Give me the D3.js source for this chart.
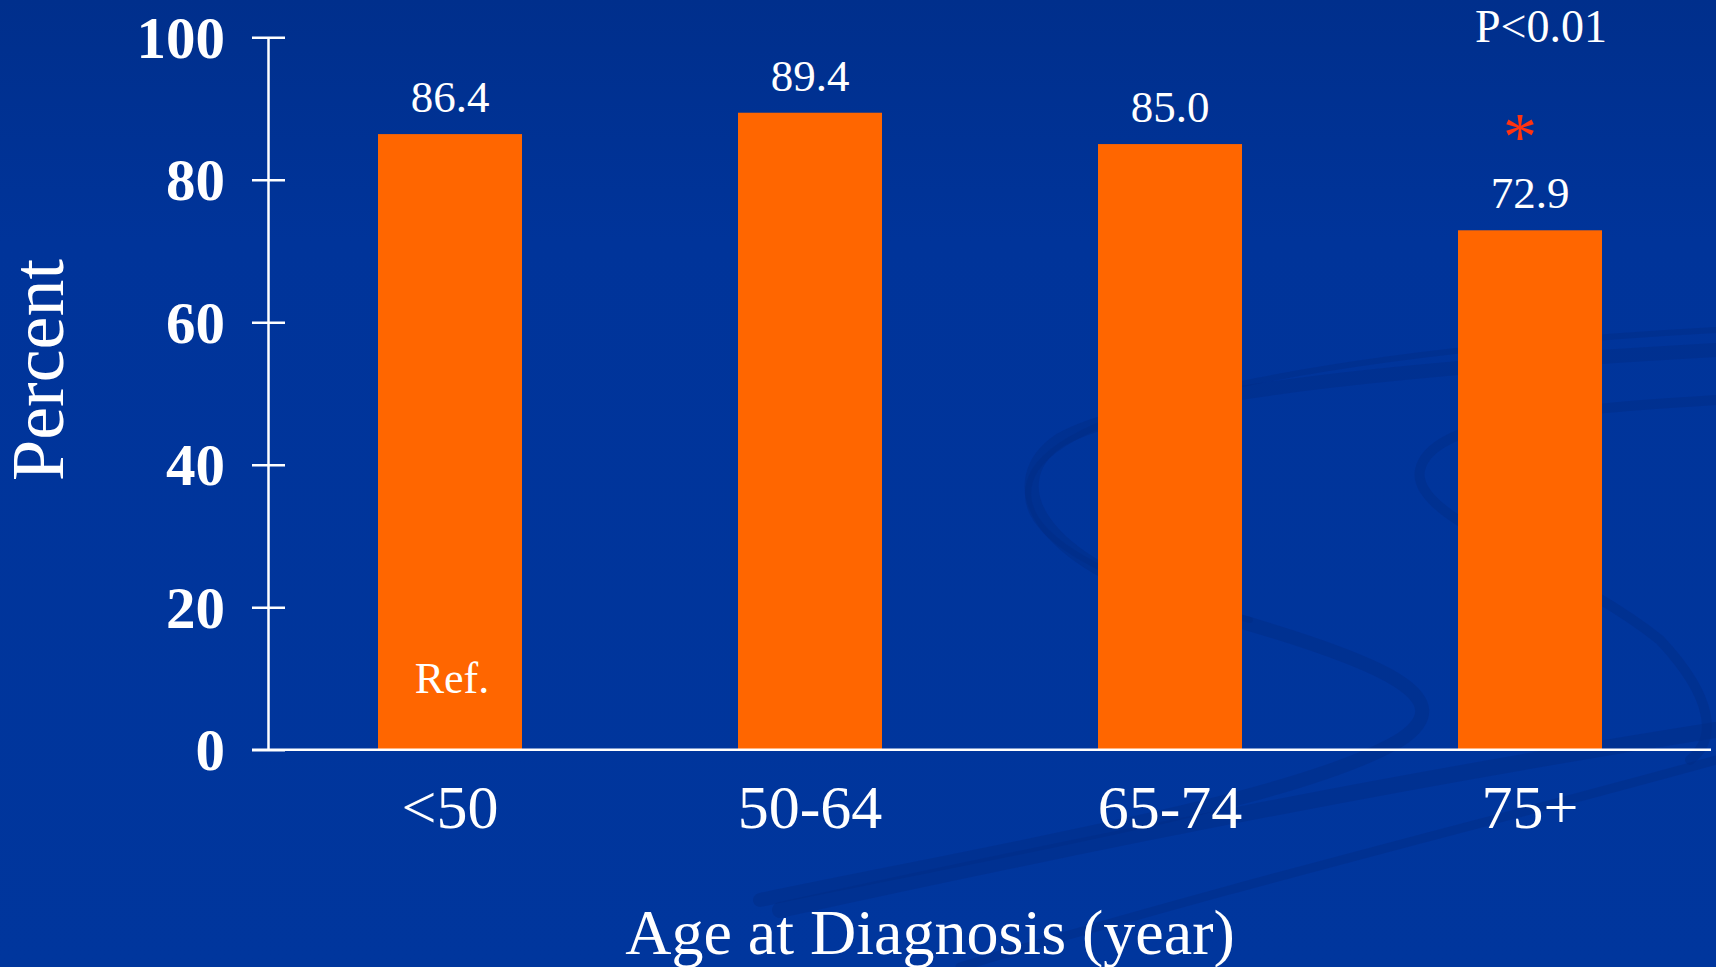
<!DOCTYPE html>
<html>
<head>
<meta charset="utf-8">
<script src="https://cdn.jsdelivr.net/npm/d3@7"></script>
<style>
  html, body { margin: 0; padding: 0; background: #00339a; overflow: hidden; }
  svg { display: block; }
  text { font-family: "Liberation Serif", "Times New Roman", serif; fill: #ffffff; }
</style>
</head>
<body>
<svg id="chart" width="1716" height="967"></svg>
<script>
// Five-year survival by age group
const categories = ["<50", "50-64", "65-74", "75+"];
const values = [86.4, 89.4, 85.0, 72.9];
const valueLabels = ["86.4", "89.4", "85.0", "72.9"];
const yTicks = [0, 20, 40, 60, 80, 100];

const W = 1716, H = 967;
const svg = d3.select("#chart");

// slide background
const defs = svg.append("defs");
const bg = defs.append("linearGradient").attr("id", "bg")
  .attr("x1", 0).attr("y1", 0).attr("x2", 0).attr("y2", 1);
bg.append("stop").attr("offset", "0%").attr("stop-color", "#002f8c");
bg.append("stop").attr("offset", "25%").attr("stop-color", "#00349a");
bg.append("stop").attr("offset", "100%").attr("stop-color", "#00369d");
svg.append("rect").attr("width", W).attr("height", H).attr("fill", "url(#bg)");

// faint template swooshes
const swoosh = svg.append("g").attr("fill", "none").attr("stroke", "#002c84")
  .attr("stroke-opacity", 0.45).attr("stroke-linecap", "round");
[
  ["M1716,350 C1450,365 1150,390 1060,440 C1000,480 1030,560 1200,610 C1400,665 1460,700 1400,740 C1300,800 1000,850 760,900", 14],
  ["M1716,400 C1560,410 1430,420 1420,470 C1410,520 1560,560 1660,640 C1716,700 1716,740 1690,760", 10],
  ["M780,910 C1100,840 1400,780 1716,730", 16],
  ["M960,967 C1250,880 1500,820 1716,760", 9],
  ["M1716,330 C1350,350 1080,400 1035,470 C1000,530 1100,580 1250,620", 6]
].forEach(([d, w]) => swoosh.append("path").attr("d", d).attr("stroke-width", w));

// scales
const x = d3.scaleBand().domain(categories).range([270, 1710])
  .paddingInner(0.6).paddingOuter(0.3);
const y = d3.scaleLinear().domain([0, 100]).range([749.7, 37.2]);

// bars
svg.append("g").selectAll("rect").data(values).join("rect")
  .attr("x", (d, i) => x(categories[i]))
  .attr("y", d => y(d))
  .attr("width", x.bandwidth())
  .attr("height", d => y(0) - y(d))
  .attr("fill", "#ff6600");

// y axis
const yAxis = svg.append("g").attr("transform", "translate(268,0)")
  .call(d3.axisLeft(y).tickValues(yTicks).tickSizeOuter(0).tickSizeInner(16).tickPadding(0));
yAxis.select(".domain").attr("stroke", "#ffffff").attr("stroke-width", 2.5);
yAxis.selectAll(".tick line").attr("x1", -16).attr("x2", 17)
  .attr("stroke", "#ffffff").attr("stroke-width", 2.5);
yAxis.selectAll(".tick text")
  .attr("x", -43).attr("dy", "0.34em")
  .style("font-family", "'Liberation Serif', 'Times New Roman', serif")
  .style("font-weight", "bold").style("font-size", "59px")
  .attr("fill", "#ffffff");

// x axis
const xAxis = svg.append("g").attr("transform", `translate(0,${y(0)})`)
  .call(d3.axisBottom(x).tickSize(0).tickSizeOuter(0));
xAxis.select(".domain").attr("stroke", "#ffffff").attr("stroke-width", 2.5)
  .attr("d", "M252,0H1711");
xAxis.selectAll(".tick text")
  .attr("y", 78).attr("dy", 0)
  .style("font-family", "'Liberation Serif', 'Times New Roman', serif")
  .style("font-size", "62px")
  .attr("fill", "#ffffff");

// value labels
svg.append("g").selectAll("text").data(values).join("text")
  .attr("x", (d, i) => x(categories[i]) + x.bandwidth() / 2)
  .attr("y", d => y(d) - 22)
  .attr("text-anchor", "middle")
  .style("font-size", "45px")
  .text((d, i) => valueLabels[i]);

// reference group marker
svg.append("text")
  .attr("x", x(categories[0]) + x.bandwidth() / 2 + 2)
  .attr("y", y(0) - 57)
  .attr("text-anchor", "middle")
  .style("font-size", "44px")
  .text("Ref.");

// significance marker for oldest group
const last = categories[categories.length - 1];
svg.append("text")
  .attr("x", x(last) + x.bandwidth() / 2 + 11)
  .attr("y", 42)
  .attr("text-anchor", "middle")
  .style("font-size", "46px")
  .text("P<0.01");
svg.append("text")
  .attr("x", x(last) + x.bandwidth() / 2 - 10)
  .attr("y", 159)
  .attr("text-anchor", "middle")
  .style("font-size", "68px")
  .style("fill", "#ff3311")
  .text("*");

// axis titles
svg.append("text")
  .attr("transform", "translate(63,370) rotate(-90)")
  .attr("text-anchor", "middle")
  .style("font-size", "74px")
  .text("Percent");
svg.append("text")
  .attr("x", 930).attr("y", 954)
  .attr("text-anchor", "middle")
  .style("font-size", "64px")
  .text("Age at Diagnosis (year)");
</script>
</body>
</html>
